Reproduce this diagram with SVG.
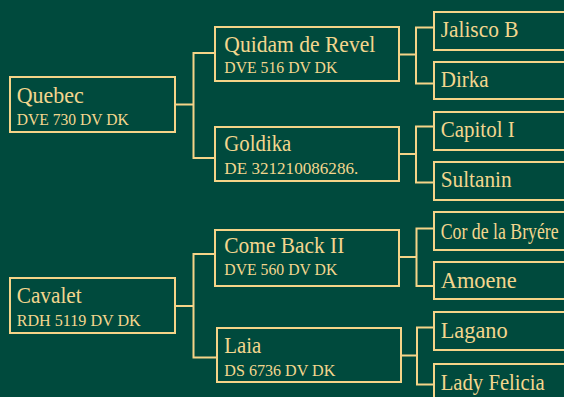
<svg xmlns="http://www.w3.org/2000/svg" width="564" height="397" viewBox="0 0 564 397">
<style>
.box{fill:#004a3d;stroke:#f5d488;stroke-width:2}
.con{fill:none;stroke:#f5d488;stroke-width:2}
text{font-family:"Liberation Serif","Times New Roman",serif;fill:#f3d68e}
.n{font-size:24px}
.r{font-size:17.5px}
</style>
<rect width="564" height="397" fill="#004a3d"/>
<g id="connectors">
<path class="con" d="M176 104.5 H193.5 M214 53 H193.5 V158 H214"/>
<path class="con" d="M176 306 H193.5 M214 254 H193.5 V357.5 H217"/>
<path class="con" d="M400 54.5 H416 M433 27.5 H416 V83.5 H433"/>
<path class="con" d="M400 154 H416 M433 126.5 H416 V182.5 H433"/>
<path class="con" d="M400 257 H416.5 M433 228.5 H416.5 V286 H433"/>
<path class="con" d="M402 355.5 H417 M433 327.5 H417 V384.5 H433"/>
</g>
<g id="quebec"><rect class="box" x="10" y="77" width="165" height="55"/>
<text class="n" x="16.7" y="103.3" textLength="67" lengthAdjust="spacingAndGlyphs">Quebec</text>
<text class="r" x="16.7" y="125" textLength="112" lengthAdjust="spacingAndGlyphs">DVE 730 DV DK</text></g>
<g id="cavalet"><rect class="box" x="10" y="278" width="165" height="55"/>
<text class="n" x="16.7" y="303.3" textLength="65" lengthAdjust="spacingAndGlyphs">Cavalet</text>
<text class="r" x="16.7" y="325.7" textLength="124" lengthAdjust="spacingAndGlyphs">RDH 5119 DV DK</text></g>
<g id="quidam"><rect class="box" x="215" y="27" width="184" height="54"/>
<text class="n" x="224.3" y="52.3" textLength="151" lengthAdjust="spacingAndGlyphs">Quidam de Revel</text>
<text class="r" x="224.3" y="73.3" textLength="113" lengthAdjust="spacingAndGlyphs">DVE 516 DV DK</text></g>
<g id="goldika"><rect class="box" x="215" y="127" width="184" height="54"/>
<text class="n" x="224.3" y="150.7" textLength="67" lengthAdjust="spacingAndGlyphs">Goldika</text>
<text class="r" x="224.3" y="174" textLength="134" lengthAdjust="spacingAndGlyphs">DE 321210086286.</text></g>
<g id="comeback"><rect class="box" x="215" y="230" width="184" height="56"/>
<text class="n" x="224.3" y="252.7" textLength="120" lengthAdjust="spacingAndGlyphs">Come Back II</text>
<text class="r" x="224.3" y="275.3" textLength="113" lengthAdjust="spacingAndGlyphs">DVE 560 DV DK</text></g>
<g id="laia"><rect class="box" x="217" y="328" width="184" height="54"/>
<text class="n" x="224.3" y="353.3" textLength="37" lengthAdjust="spacingAndGlyphs">Laia</text>
<text class="r" x="224.3" y="375.7" textLength="111" lengthAdjust="spacingAndGlyphs">DS 6736 DV DK</text></g>
<g id="jalisco"><rect class="box" x="434" y="12" width="140" height="38"/>
<text class="n" x="440.7" y="36.7" textLength="77.7" lengthAdjust="spacingAndGlyphs">Jalisco B</text></g>
<g id="dirka"><rect class="box" x="434" y="62" width="140" height="37"/>
<text class="n" x="440.7" y="87.3" textLength="48" lengthAdjust="spacingAndGlyphs">Dirka</text></g>
<g id="capitol"><rect class="box" x="434" y="112" width="140" height="38"/>
<text class="n" x="440.7" y="137.3" textLength="74" lengthAdjust="spacingAndGlyphs">Capitol I</text></g>
<g id="sultanin"><rect class="box" x="434" y="162" width="140" height="38"/>
<text class="n" x="440.7" y="187.3" textLength="71" lengthAdjust="spacingAndGlyphs">Sultanin</text></g>
<g id="cor"><rect class="box" x="434" y="212" width="140" height="38"/>
<text class="n" x="440.7" y="239.3" textLength="118" lengthAdjust="spacingAndGlyphs">Cor de la Bryére</text></g>
<g id="amoene"><rect class="box" x="434" y="262" width="140" height="37"/>
<text class="n" x="440.7" y="288.3" textLength="76" lengthAdjust="spacingAndGlyphs">Amoene</text></g>
<g id="lagano"><rect class="box" x="434" y="312" width="140" height="38"/>
<text class="n" x="440.7" y="338.3" textLength="67" lengthAdjust="spacingAndGlyphs">Lagano</text></g>
<g id="ladyfelicia"><rect class="box" x="434" y="364" width="140" height="38"/>
<text class="n" x="440.7" y="390" textLength="104" lengthAdjust="spacingAndGlyphs">Lady Felicia</text></g>
</svg>
